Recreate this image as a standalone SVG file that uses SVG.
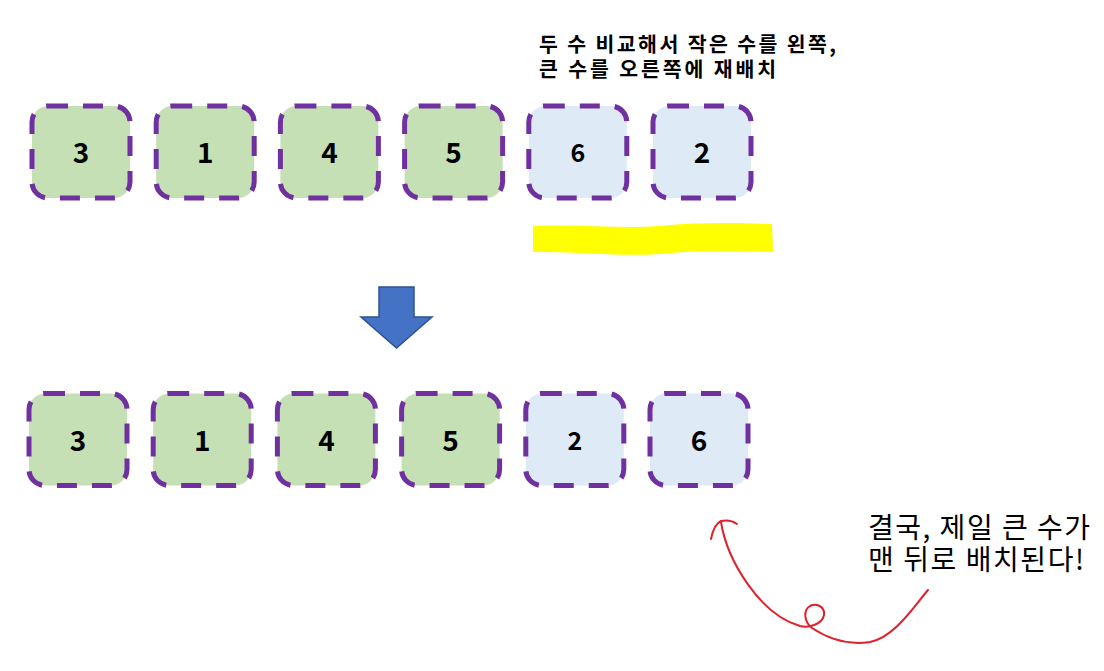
<svg xmlns="http://www.w3.org/2000/svg" width="1104" height="671" viewBox="0 0 1104 671">
<style>
.box{stroke:#7030A0;stroke-width:5;stroke-dasharray:20 15}
.g{fill:#C5E0B4}
.b{fill:#DEEBF7}
.num{font-family:"Noto Sans CJK KR","Noto Sans",sans-serif;font-weight:bold;font-size:28px;fill:#000;text-anchor:middle}
.sm{font-size:25px}
.head{font-family:"Noto Sans CJK KR",sans-serif;font-weight:bold;font-size:20.5px;fill:#000}
.note{font-family:"Noto Sans CJK KR",sans-serif;font-size:28px;fill:#000}
</style>
<rect width="1104" height="671" fill="#fff"/>
<g id="heading">
<text class="head" x="539" y="52" textLength="297" lengthAdjust="spacing">두 수 비교해서 작은 수를 왼쪽,</text>
<text class="head" x="539" y="77" textLength="237" lengthAdjust="spacing">큰 수를 오른쪽에 재배치</text>
</g>
<g id="top-row">
<g id="t1"><rect class="box g" x="32" y="106" width="98" height="92" rx="16"/><text class="num" x="81" y="163">3</text></g>
<g id="t2"><rect class="box g" x="156.2" y="106" width="98" height="92" rx="16"/><text class="num" x="205.2" y="163">1</text></g>
<g id="t3"><rect class="box g" x="280.4" y="106" width="98" height="92" rx="16"/><text class="num" x="329.4" y="163">4</text></g>
<g id="t4"><rect class="box g" x="404.6" y="106" width="98" height="92" rx="16"/><text class="num" x="453.6" y="163">5</text></g>
<g id="t5"><rect class="box b" x="528.8" y="106" width="98" height="92" rx="16"/><text class="num sm" x="577.8" y="162">6</text></g>
<g id="t6"><rect class="box b" x="653" y="106" width="98" height="92" rx="16"/><text class="num" x="702" y="163">2</text></g>
</g>
<g id="highlight">
<path d="M533,226 C580,224 620,229 660,226 C700,222 740,223 772,224 L773,252 C740,251 700,250 660,254 C620,257 580,251 533,252 Z" fill="#FFFF00"/>
</g>
<g id="down-arrow">
<path d="M379,287 L414,287 L414,317 L432,317 L396.5,348 L361,317 L379,317 Z" fill="#4472C4" stroke="#2F528F" stroke-width="1.5" stroke-linejoin="miter"/>
</g>
<g id="bottom-row">
<g id="b1"><rect class="box g" x="29" y="393.5" width="98" height="92" rx="16"/><text class="num" x="78" y="450.5">3</text></g>
<g id="b2"><rect class="box g" x="153.2" y="393.5" width="98" height="92" rx="16"/><text class="num" x="202.2" y="450.5">1</text></g>
<g id="b3"><rect class="box g" x="277.4" y="393.5" width="98" height="92" rx="16"/><text class="num" x="326.4" y="450.5">4</text></g>
<g id="b4"><rect class="box g" x="401.6" y="393.5" width="98" height="92" rx="16"/><text class="num" x="450.6" y="450.5">5</text></g>
<g id="b5"><rect class="box b" x="525.8" y="393.5" width="98" height="92" rx="16"/><text class="num sm" x="574.8" y="449.5">2</text></g>
<g id="b6"><rect class="box b" x="650" y="393.5" width="98" height="92" rx="16"/><text class="num" x="699" y="450.5">6</text></g>
</g>
<g id="connectors" fill="none" stroke="#E0202A" stroke-width="2" stroke-linecap="round">
<path d="M711,539 Q714,524 721,521 Q730,519 737,524"/>
<path d="M721,522 C727,560 760,615 800,626 C808,628 822,625 824,615 C825,606 816,603 810,606 C803,610 804,622 812,628 C830,640 850,645 870,642 C895,637 915,605 928,590"/>
</g>
<g id="note">
<text class="note" x="868" y="538" textLength="222" lengthAdjust="spacing">결국, 제일 큰 수가</text>
<text class="note" x="868" y="570" textLength="216" lengthAdjust="spacing">맨 뒤로 배치된다!</text>
</g>
</svg>
